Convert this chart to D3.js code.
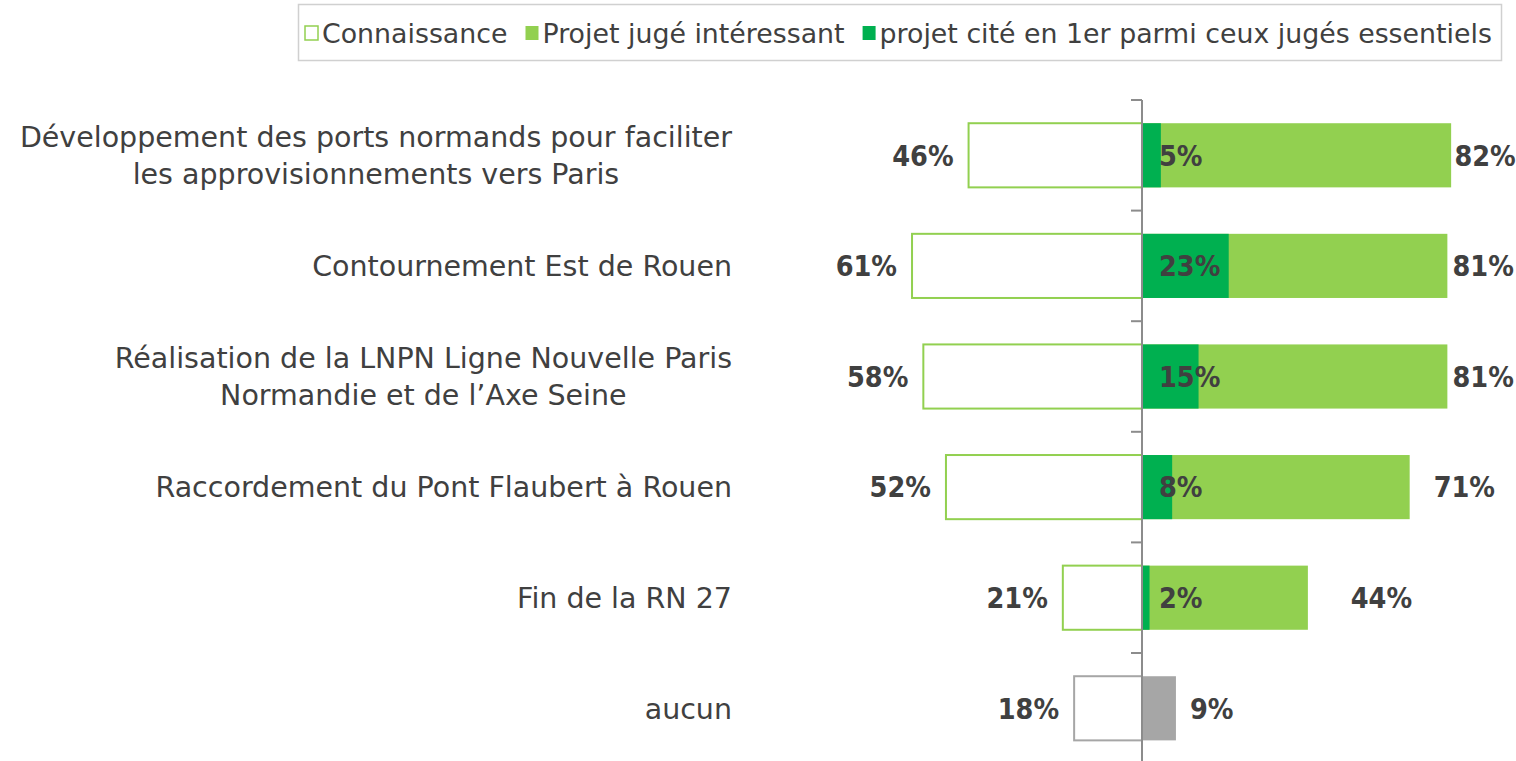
<!DOCTYPE html>
<html>
<head>
<meta charset="utf-8">
<script src="https://cdn.jsdelivr.net/npm/d3@7"></script>
<style>
  body { margin: 0; background: #fff; }
  text { font-family: "DejaVu Sans", sans-serif; fill: #404040; }
  text.val { font-family: "DejaVu Sans Condensed", "DejaVu Sans", sans-serif; font-weight: bold; font-size: 28.5px; }
</style>
</head>
<body>
<div id="chart"></div>
<script>
// projects, top to bottom
const categories = [
  ["Développement des ports normands pour faciliter", "les approvisionnements vers Paris"],
  ["Contournement Est de Rouen"],
  ["Réalisation de la LNPN Ligne Nouvelle Paris", "Normandie et de l’Axe Seine"],
  ["Raccordement du Pont Flaubert à Rouen"],
  ["Fin de la RN 27 "],
  ["aucun"]
];
const connaissance = [46, 61, 58, 52, 21, 18];
const interessant = [82, 81, 81, 71, 44, 9];
const citePremier = [5, 23, 15, 8, 2, null];
// end of the invisible spacer series that carries the right-hand labels
const labelSpanEnd = [100, 100, 100, 100, 83, 28];

const legendNames = ["Connaissance", "Projet jugé intéressant", "projet cité en 1er parmi ceux jugés essentiels"];

const W = 1516, H = 761;
const green = "#92d050", dark = "#00b050", grey = "#a6a6a6";

const svg = d3.select("#chart").append("svg")
    .attr("width", W)
    .attr("height", H);

const axisX = 1142;
const y = d3.scaleBand()
    .domain(d3.range(categories.length))
    .range([100, 763.6])
    .paddingInner(0.42)
    .paddingOuter(0.21);

const xR = d3.scaleLinear().domain([0, 100]).range([axisX, axisX + 377]);
const xL = d3.scaleLinear().domain([0, 100]).range([axisX, axisX - 377]);

const rows = categories.map((c, i) => ({
    i, lines: c, con: connaissance[i], int: interessant[i], cite: citePremier[i],
    span: labelSpanEnd[i], none: citePremier[i] == null
}));

// left bars (connaissance)
svg.append("g").selectAll("rect")
    .data(rows).enter().append("rect")
    .attr("x", d => xL(d.con))
    .attr("y", d => y(d.i))
    .attr("width", d => xL(0) - xL(d.con))
    .attr("height", y.bandwidth())
    .attr("fill", "#fff")
    .attr("stroke", d => d.none ? grey : green)
    .attr("stroke-width", 2);

// right bars
svg.append("g").selectAll("rect")
    .data(rows).enter().append("rect")
    .attr("x", xR(0))
    .attr("y", d => y(d.i))
    .attr("width", d => xR(d.int) - xR(0))
    .attr("height", y.bandwidth())
    .attr("fill", d => d.none ? grey : green);

svg.append("g").selectAll("rect")
    .data(rows.filter(d => !d.none)).enter().append("rect")
    .attr("x", xR(0))
    .attr("y", d => y(d.i))
    .attr("width", d => xR(d.cite) - xR(0))
    .attr("height", y.bandwidth())
    .attr("fill", dark);

// axis with ticks between rows
const ticks = d3.range(categories.length).map(i => y(i) - y.step() * y.paddingInner() / 2);
svg.append("line")
    .attr("x1", axisX).attr("x2", axisX)
    .attr("y1", ticks[0]).attr("y2", H)
    .attr("stroke", "#8c8c8c").attr("stroke-width", 2);
svg.append("g").selectAll("line")
    .data(ticks).enter().append("line")
    .attr("x1", axisX - 11).attr("x2", axisX)
    .attr("y1", d => d).attr("y2", d => d)
    .attr("stroke", "#8c8c8c").attr("stroke-width", 2);

// value labels
const cy = d => y(d.i) + y.bandwidth() / 2;

svg.append("g").selectAll("text")
    .data(rows).enter().append("text")
    .attr("class", "val")
    .attr("x", d => xL(d.con) - 15)
    .attr("y", cy)
    .attr("dy", "0.36em")
    .attr("text-anchor", "end")
    .text(d => d.con + "%");

svg.append("g").selectAll("text")
    .data(rows).enter().append("text")
    .attr("class", "val")
    .attr("x", d => (xR(d.int) + xR(d.span)) / 2)
    .attr("y", cy)
    .attr("dy", "0.36em")
    .attr("text-anchor", "middle")
    .text(d => d.int + "%");

svg.append("g").selectAll("text")
    .data(rows.filter(d => !d.none)).enter().append("text")
    .attr("class", "val")
    .attr("x", xR(0) + 17)
    .attr("y", cy)
    .attr("dy", "0.36em")
    .text(d => d.cite + "%");

// category labels: each block right aligned, lines centred inside it
const catRight = 732, lineH = 37;
rows.forEach(d => {
    const g = svg.append("g");
    const t = g.selectAll("text").data(d.lines).enter().append("text")
        .attr("y", (l, k) => cy(d) + (k - (d.lines.length - 1) / 2) * lineH)
        .attr("dy", "0.36em")
        .attr("font-size", "28.5px")
        .attr("text-anchor", "middle")
        .text(l => l);
    const w = d3.max(t.nodes(), n => n.getComputedTextLength());
    t.attr("x", catRight - w / 2);
});

// legend
const leg = svg.append("g");
leg.append("rect")
    .attr("x", 298.5).attr("y", 4.5)
    .attr("width", 1203).attr("height", 56)
    .attr("fill", "#fff").attr("stroke", "#d0d0d0").attr("stroke-width", 1.5);

const swatch = [
    { fill: "#fff", stroke: green },
    { fill: green, stroke: "none" },
    { fill: dark, stroke: "none" }
];
let lx = 304;
legendNames.forEach((name, k) => {
    leg.append("rect")
        .attr("x", lx + 1).attr("y", 26)
        .attr("width", 13).attr("height", 14)
        .attr("fill", swatch[k].fill)
        .attr("stroke", swatch[k].stroke)
        .attr("stroke-width", 1.5);
    const t = leg.append("text")
        .attr("x", lx + 18).attr("y", 33)
        .attr("dy", "0.36em")
        .attr("font-size", "26.8px")
        .text(name);
    lx += 18 + t.node().getComputedTextLength() + 17;
});
</script>
</body>
</html>
